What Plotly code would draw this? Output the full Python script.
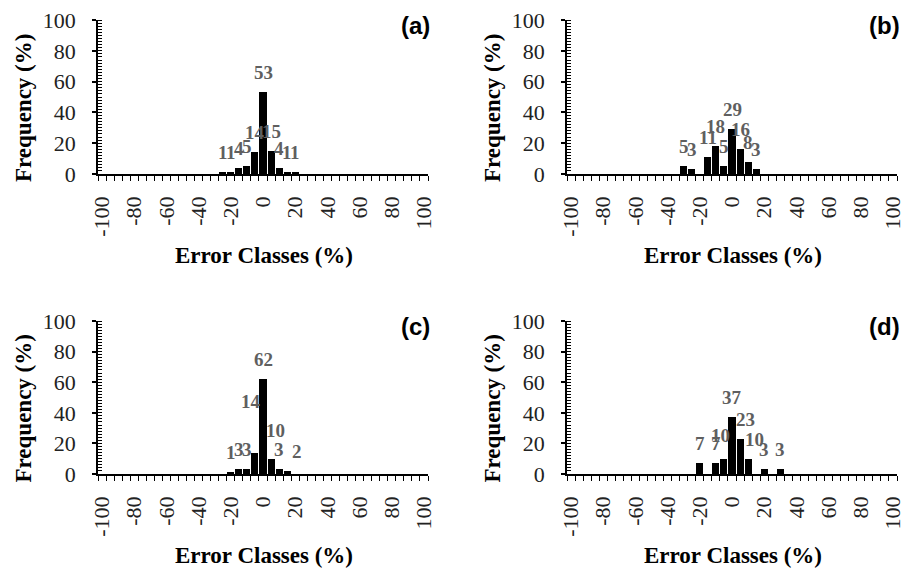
import plotly.graph_objects as go

# ---- data ----
tick_values = [-100, -80, -60, -40, -20, 0, 20, 40, 60, 80, 100]
tick_labels = ["-100", "-80", "-60", "-40", "-20", "0", "20", "40", "60", "80", "100"]

bins_a = [-25, -20, -15, -10, -5, 0, 5, 10, 15, 20]
freq_a = [1, 1, 4, 5, 14, 53, 15, 4, 1, 1]

bins_b = [-30, -25, -15, -10, -5, 0, 5, 10, 15]
freq_b = [5, 3, 11, 18, 5, 29, 16, 8, 3]

bins_c = [-20, -15, -10, -5, 0, 5, 10, 15]
freq_c = [1, 3, 3, 14, 62, 10, 3, 2]

bins_d = [-20, -10, -5, 0, 5, 10, 20, 30]
freq_d = [7, 7, 10, 37, 23, 10, 3, 3]

panel_names = ["(a)", "(b)", "(c)", "(d)"]
x_title = "Error Classes (%)"
y_title = "Frequency (%)"

# ---- style / placement ----
W, H = 905, 570
def px(x):
    return x / W
def py(y):
    return 1 - y / H

# pixel boxes: (left, right, top(100), bottom(0))
boxes = [(98, 428, 20, 174), (567, 897, 20, 174), (98, 428, 321, 474), (567, 897, 321, 474)]
data = [(bins_a, freq_a), (bins_b, freq_b), (bins_c, freq_c), (bins_d, freq_d)]
# extra label nudges (panel index, bin) -> (xshift, yshift) in pixels
label_nudge = {(2, -5): (-4, 32), (2, 5): (4, 9), (2, 15): (10, 0),
               (3, -5): (-3, 4), (3, 5): (5, 0), (3, 10): (6, 0)}

serif = "Liberation Serif"
fig = go.Figure()
layout = dict(width=W, height=H, margin=dict(l=0, r=0, t=0, b=0, autoexpand=False),
              plot_bgcolor="white", paper_bgcolor="white", showlegend=False,
              bargap=0)
annotations = []
for i, ((bins, freq), (l, r, t, b)) in enumerate(zip(data, boxes)):
    n = "" if i == 0 else str(i + 1)
    xa, ya = "x" + n, "y" + n
    fig.add_trace(go.Bar(
        x=bins, y=freq, width=4.4, marker=dict(color="black", line=dict(width=0)),
        xaxis=xa, yaxis=ya, hoverinfo="x+y"))
    for xv, yv in zip(bins, freq):
        dx, dy = label_nudge.get((i, xv), (0, 0))
        annotations.append(dict(text=str(yv), x=xv, y=yv, xref=xa, yref=ya,
                                xanchor="center", yanchor="bottom", showarrow=False,
                                xshift=dx, yshift=7 + dy,
                                font=dict(family=serif, size=19, color="#5f5f5f", weight="bold")))
    layout["xaxis" + n] = dict(
        domain=[px(l), px(r)], anchor=ya, range=[-102.5, 102.5], automargin=False,
        showline=True, linecolor="black", linewidth=1.5, showgrid=False, zeroline=False,
        tickmode="array", tickvals=tick_values, ticktext=tick_labels, tickangle=-90,
        ticks="", ticklabelstandoff=12, ticklabeloverflow="allow",
        minor=dict(ticks="outside", ticklen=5, tickwidth=1.2, tickcolor="black",
                   tick0=-102.5, dtick=5, showgrid=False),
        tickfont=dict(family=serif, size=22, color="#222"))
    layout["yaxis" + n] = dict(
        domain=[py(b), py(t)], anchor=xa, range=[0, 100], automargin=False,
        showline=True, linecolor="black", linewidth=1.5, showgrid=False, zeroline=False,
        tickmode="linear", tick0=0, dtick=20, ticks="outside", ticklen=4, tickwidth=1.5,
        tickcolor="black", ticklabelstandoff=12, ticklabeloverflow="allow",
        minor=dict(ticks="inside", ticklen=4, tickwidth=1.2, tickcolor="black",
                   dtick=2, showgrid=False),
        tickfont=dict(family=serif, size=22, color="#222"))
    # panel label
    annotations.append(dict(text="<b>" + panel_names[i] + "</b>", xref="paper", yref="paper",
                            x=px(r - 13), y=py(t + 5), xanchor="center", yanchor="middle",
                            showarrow=False, font=dict(family="Liberation Sans", size=24, color="black")))
    # y title
    annotations.append(dict(text="<b>" + y_title + "</b>", xref="paper", yref="paper",
                            x=px(l - 75), y=py((t + b) / 2 + 11), textangle=-90,
                            xanchor="center", yanchor="middle", showarrow=False,
                            font=dict(family=serif, size=23, color="black")))
    # x title
    annotations.append(dict(text="<b>" + x_title + "</b>", xref="paper", yref="paper",
                            x=px(l + 166), y=py(b + 81), xanchor="center", yanchor="middle",
                            showarrow=False, font=dict(family=serif, size=23, color="black")))

layout["annotations"] = annotations
fig.update_layout(**layout)
fig.write_html("out.html", config={"displayModeBar": False},
               post_script="document.body.style.margin='0';document.body.style.overflow='hidden';")
